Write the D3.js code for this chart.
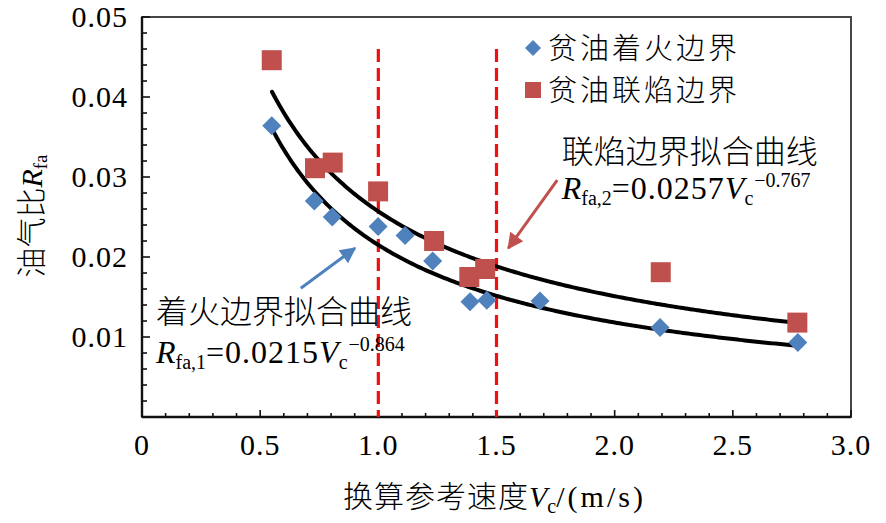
<!DOCTYPE html>
<html>
<head>
<meta charset="utf-8">
<script src="https://cdn.jsdelivr.net/npm/d3@7"></script>
<style>
  body { margin: 0; background: #fff; }
  svg { display: block; }
</style>
</head>
<body>
<div id="chart"></div>
<script>
// ignition boundary (diamonds) and flame-connection boundary (squares)
const ignX = [0.549, 0.729, 0.805, 0.999, 1.113, 1.230, 1.388, 1.459, 1.684, 2.192, 2.775];
const ignY = [0.0364, 0.0270, 0.0250, 0.0238, 0.0227, 0.0195, 0.0144, 0.0146, 0.0145, 0.0112, 0.0093];
const flmX = [0.549, 0.732, 0.807, 0.999, 1.236, 1.385, 1.452, 2.195, 2.773];
const flmY = [0.0446, 0.0311, 0.0318, 0.0282, 0.0220, 0.0175, 0.0185, 0.0181, 0.0118];

// fitted power laws printed on the chart: R = coef * V^exp
const fitCoef = [0.0215, 0.0257];
const fitExp = [-0.864, -0.767];
const fitRange = [0.55, 2.78];

const xTicks = [0, 0.5, 1.0, 1.5, 2.0, 2.5, 3.0];
const xTickLabels = ["0", "0.5", "1.0", "1.5", "2.0", "2.5", "3.0"];
const yTicks = [0.01, 0.02, 0.03, 0.04, 0.05];
const yTickLabels = ["0.01", "0.02", "0.03", "0.04", "0.05"];
const guideX = [1.0, 1.5];

const seriesNames = ["贫油着火边界", "贫油联焰边界"];
const fitNames = ["着火边界拟合曲线", "联焰边界拟合曲线"];

const blue = "#4f81bd", red = "#c0504d";
const serif = "'Liberation Serif', 'Times New Roman', serif";
const cjk = "'Noto Sans CJK SC', sans-serif";

const W = 886, H = 523;
const margin = { top: 17, right: 35, bottom: 106, left: 142 };
const width = W - margin.left - margin.right;
const height = H - margin.top - margin.bottom;

const x = d3.scaleLinear().domain([0, 3]).range([0, width]);
const y = d3.scaleLinear().domain([0, 0.05]).range([height, 0]);

const svg = d3.select("#chart").append("svg")
  .attr("width", W)
  .attr("height", H);

const defs = svg.append("defs");
[["arrowBlue", blue], ["arrowRed", red]].forEach(([id, c]) => {
  defs.append("marker")
    .attr("id", id)
    .attr("markerUnits", "userSpaceOnUse")
    .attr("viewBox", "0 0 10 10")
    .attr("refX", 9).attr("refY", 5)
    .attr("markerWidth", 18).attr("markerHeight", 16)
    .attr("orient", "auto")
    .append("path")
    .attr("d", "M0,0 L10,5 L0,10 Z")
    .attr("fill", c);
});

const g = svg.append("g")
  .attr("transform", "translate(" + margin.left + "," + margin.top + ")");

// frame
g.append("rect")
  .attr("width", width).attr("height", height)
  .attr("fill", "none").attr("stroke", "#333").attr("stroke-width", 1.8);

// ticks, drawn inward
const xMinor = d3.range(0, 3.0001, 0.1);
g.selectAll(".xtick").data(xMinor).enter().append("line")
  .attr("x1", d => x(d)).attr("x2", d => x(d))
  .attr("y1", height)
  .attr("y2", (d, i) => height - (i % 5 === 0 ? 7 : 4))
  .attr("stroke", "#111").attr("stroke-width", 1.6);

const yMinor = d3.range(0, 0.05001, 0.002);
g.selectAll(".ytick").data(yMinor).enter().append("line")
  .attr("y1", d => y(d)).attr("y2", d => y(d))
  .attr("x1", 0)
  .attr("x2", (d, i) => (i % 5 === 0 ? 8 : 5))
  .attr("stroke", "#111").attr("stroke-width", 1.6);

// bottom and left axis lines
g.append("line").attr("x1", 0).attr("x2", width).attr("y1", height).attr("y2", height)
  .attr("stroke", "#111").attr("stroke-width", 2.4);
g.append("line").attr("x1", 0).attr("x2", 0).attr("y1", 0).attr("y2", height)
  .attr("stroke", "#111").attr("stroke-width", 2.4);

// tick labels
g.selectAll(".xlab").data(xTicks).enter().append("text")
  .attr("x", d => x(d)).attr("y", height + 38)
  .attr("text-anchor", "middle")
  .attr("font-family", serif).attr("font-size", 30).attr("letter-spacing", 1)
  .text((d, i) => xTickLabels[i]);

g.selectAll(".ylab").data(yTicks).enter().append("text")
  .attr("x", -14).attr("y", d => y(d)).attr("dy", "0.34em")
  .attr("text-anchor", "end")
  .attr("font-family", serif).attr("font-size", 30).attr("letter-spacing", 1)
  .text((d, i) => yTickLabels[i]);

// axis titles
const xt = svg.append("text")
  .attr("x", 343).attr("y", 507)
  .attr("font-size", 30);
xt.append("tspan").attr("font-family", cjk).attr("font-weight", 300).attr("letter-spacing", 1).text("换算参考速度");
xt.append("tspan").attr("font-family", serif).attr("font-style", "italic").text("V");
xt.append("tspan").attr("font-family", serif).attr("font-size", 20).attr("dy", 6).text("c");
xt.append("tspan").attr("font-family", serif).attr("dy", -6).attr("letter-spacing", 3).text("/(m/s)");

const yt = svg.append("text")
  .attr("transform", "translate(42,216) rotate(-90)")
  .attr("text-anchor", "middle")
  .attr("font-size", 30);
yt.append("tspan").attr("font-family", cjk).attr("font-weight", 300).text("油气比");
yt.append("tspan").attr("font-family", serif).attr("font-style", "italic").text("R");
yt.append("tspan").attr("font-family", serif).attr("font-size", 19).attr("dy", 5).text("fa");

// vertical guide lines
g.selectAll(".guide").data(guideX).enter().append("line")
  .attr("x1", d => x(d)).attr("x2", d => x(d))
  .attr("y1", y(0.046)).attr("y2", height)
  .attr("stroke", "#f01010").attr("stroke-width", 3.2)
  .attr("stroke-dasharray", "13,6");

// fitted curves
const line = d3.line().x(d => x(d[0])).y(d => y(d[1])).curve(d3.curveLinear);
const samples = d3.range(fitRange[0], fitRange[1] + 0.0001, 0.01);
fitCoef.forEach((c, k) => {
  g.append("path")
    .datum(samples.map(v => [v, c * Math.pow(v, fitExp[k])]))
    .attr("d", line)
    .attr("fill", "none").attr("stroke", "#000").attr("stroke-width", 4)
    .attr("stroke-linecap", "round");
});

// data points
const ign = ignX.map((v, i) => [v, ignY[i]]);
const flm = flmX.map((v, i) => [v, flmY[i]]);

g.selectAll(".sq").data(flm).enter().append("rect")
  .attr("x", d => x(d[0]) - 10).attr("y", d => y(d[1]) - 10)
  .attr("width", 20).attr("height", 20)
  .attr("fill", red);

g.selectAll(".dm").data(ign).enter().append("path")
  .attr("transform", d => "translate(" + x(d[0]) + "," + y(d[1]) + ")")
  .attr("d", "M0,-9.5 L9.5,0 L0,9.5 L-9.5,0 Z")
  .attr("fill", blue);

// legend
const lg = svg.append("g").attr("transform", "translate(533,0)");
const rowY = [48, 90];
lg.append("path").attr("transform", "translate(0," + rowY[0] + ")")
  .attr("d", "M0,-8 L8,0 L0,8 L-8,0 Z").attr("fill", blue);
lg.append("rect").attr("x", -8).attr("y", rowY[1] - 8).attr("width", 16).attr("height", 16).attr("fill", red);
seriesNames.forEach((s, i) => {
  lg.append("text")
    .attr("x", 15).attr("y", rowY[i] + 11)
    .attr("font-family", cjk).attr("font-weight", 300).attr("font-size", 29)
    .attr("letter-spacing", 3)
    .text(s);
});

// annotations
function equation(px, py, sub, coef, expo) {
  const t = g.append("text").attr("x", px).attr("y", py)
    .attr("font-family", serif).attr("font-size", 32);
  t.append("tspan").attr("font-style", "italic").text("R");
  t.append("tspan").attr("font-size", 20).attr("dy", 6).text(sub);
  t.append("tspan").attr("dy", -6).attr("letter-spacing", 1).text("=" + coef);
  t.append("tspan").attr("font-style", "italic").text("V");
  t.append("tspan").attr("font-size", 20).attr("dy", 6).text("c");
  t.append("tspan").attr("font-size", 20).attr("dy", -18).attr("dx", 1).text("\u2212" + expo);
}

g.append("text")
  .attr("x", x(0.059)).attr("y", y(0.0118))
  .attr("font-family", cjk).attr("font-weight", 300).attr("font-size", 32)
  .text(fitNames[0]);
equation(x(0.059), y(0.0068), "fa,1", fitCoef[0], Math.abs(fitExp[0]));

g.append("text")
  .attr("x", x(1.776)).attr("y", y(0.0318))
  .attr("font-family", cjk).attr("font-weight", 300).attr("font-size", 32)
  .text(fitNames[1]);
equation(x(1.776), y(0.0272), "fa,2", fitCoef[1], Math.abs(fitExp[1]));

g.append("line")
  .attr("x1", x(0.672)).attr("y1", y(0.0161))
  .attr("x2", x(0.901)).attr("y2", y(0.0211))
  .attr("stroke", blue).attr("stroke-width", 3)
  .attr("marker-end", "url(#arrowBlue)");

g.append("line")
  .attr("x1", x(1.757)).attr("y1", y(0.0296))
  .attr("x2", x(1.550)).attr("y2", y(0.0211))
  .attr("stroke", red).attr("stroke-width", 3)
  .attr("marker-end", "url(#arrowRed)");
</script>
</body>
</html>
